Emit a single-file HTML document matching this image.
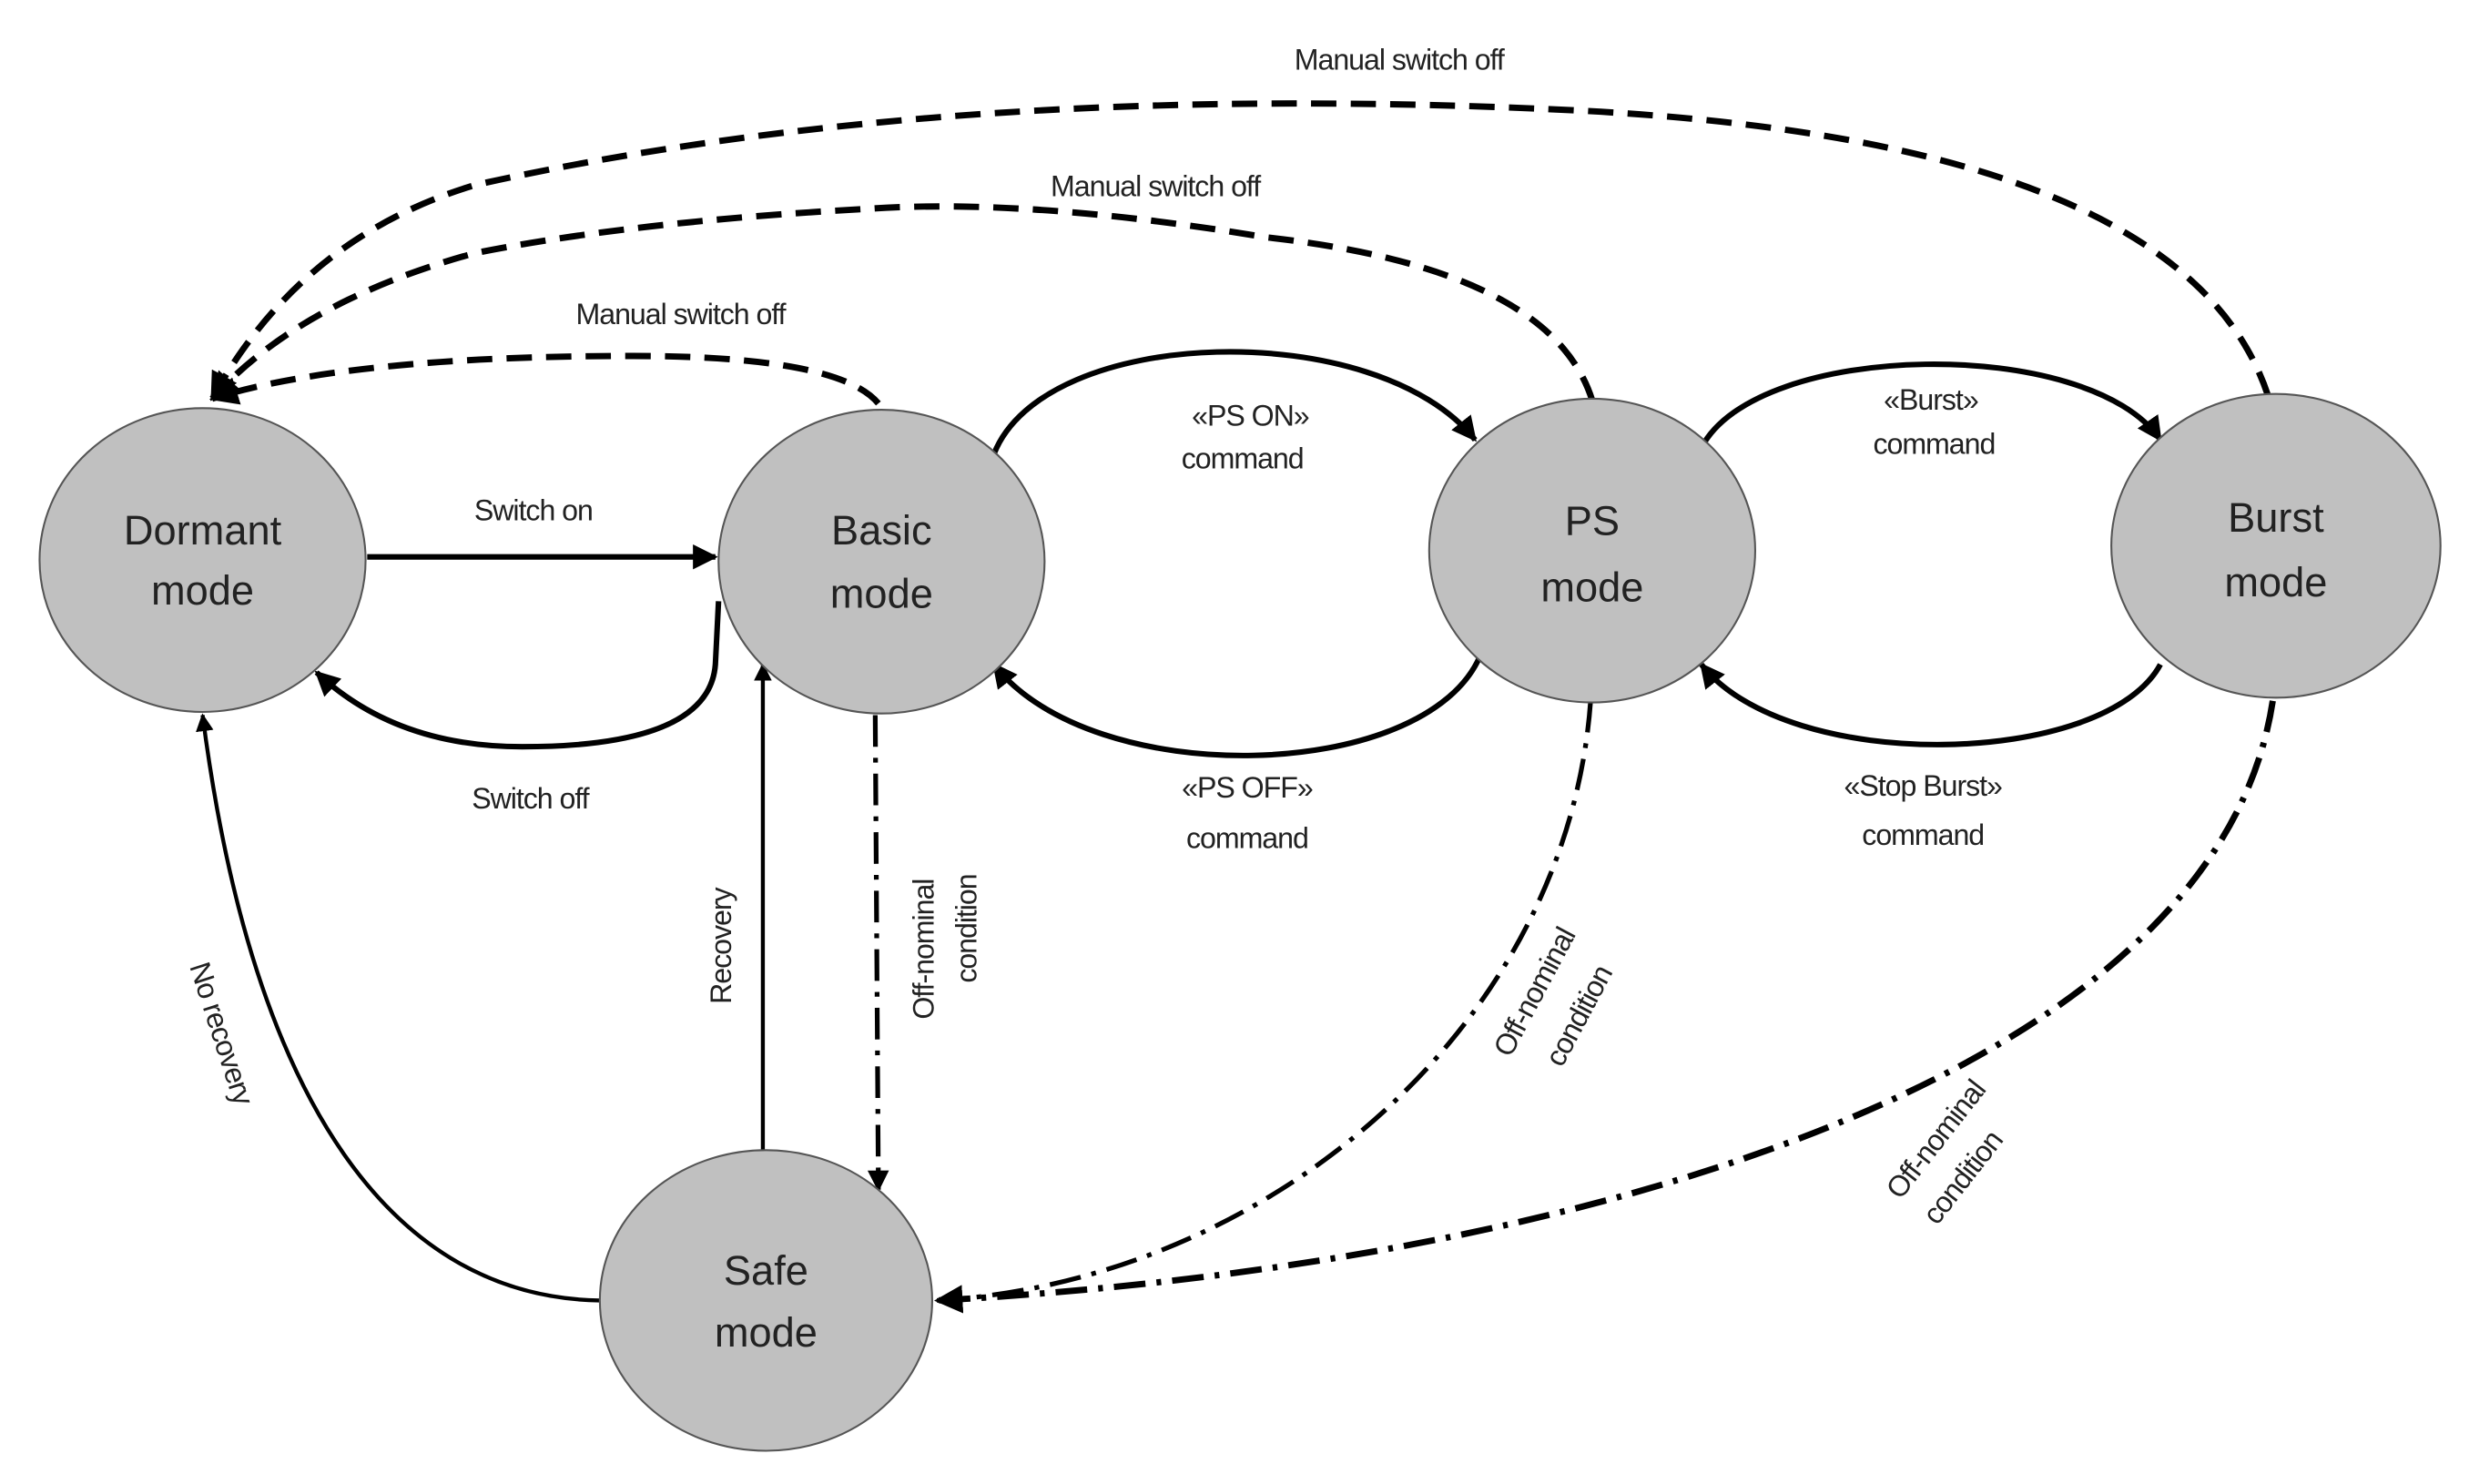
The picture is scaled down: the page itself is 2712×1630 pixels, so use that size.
<!DOCTYPE html>
<html><head><meta charset="utf-8"><style>
html,body{margin:0;padding:0;background:#fff;}
svg{display:block;}
text{font-family:"Liberation Sans",sans-serif;fill:#222;}
.n{font-size:26px;text-anchor:middle;}
.l{font-size:18.5px;text-anchor:middle;letter-spacing:-0.6px;}
</style></head><body>
<svg width="2712" height="1630" viewBox="0 0 1560 938" preserveAspectRatio="none" xmlns="http://www.w3.org/2000/svg">
<defs>
<marker id="b" viewBox="0 0 10 10" refX="9" refY="5" markerWidth="4.5" markerHeight="4.5" orient="auto"><path d="M0,0 L10,5 L0,10 z" fill="#000"/></marker>
</defs>
<g fill="none" stroke="#000">
<path d="M1433,250 Q1380,90 1000,70 Q600,50 300,117 Q190,150 134,252" stroke-width="4" stroke-dasharray="16 9" marker-end="url(#b)"/>
<path d="M1006,253 Q980,170 800,150 Q650,125 548,132 Q400,140 300,160 Q190,190 134,252" stroke-width="4" stroke-dasharray="16 9" marker-end="url(#b)"/>
<path d="M555,255 Q530,225 400,225 Q220,225 134,252" stroke-width="4" stroke-dasharray="16 9" marker-end="url(#b)"/>
<path d="M232,352 L452,352" stroke-width="3.5" marker-end="url(#b)"/>
<path d="M454,380 L452,420 Q448,472 330,472 Q250,472 200,425" stroke-width="3.5" marker-end="url(#b)"/>
<path d="M628,287 C660,205 870,200 932,278" stroke-width="3.5" marker-end="url(#b)"/>
<path d="M935,415 C900,495 690,500 628,420" stroke-width="3.5" marker-end="url(#b)"/>
<path d="M1075,283 C1110,215 1320,212 1365,278" stroke-width="3.5" marker-end="url(#b)"/>
<path d="M1365,420 C1330,485 1130,490 1075,420" stroke-width="3.5" marker-end="url(#b)"/>
<path d="M482,727 L482,420" stroke-width="2.5" marker-end="url(#b)"/>
<path d="M379,822 C250,820 160,700 128,452" stroke-width="2.5" marker-end="url(#b)"/>
<path d="M553,452 L555,752" stroke-width="3" stroke-dasharray="20 7 3 7" marker-end="url(#b)"/>
<path d="M1005,443 C990,650 800,810 592,822" stroke-width="3" stroke-dasharray="20 7 3 7"/>
<path d="M1436,443 C1400,680 1000,800 592,822" stroke-width="4" stroke-dasharray="20 7 3 7" marker-end="url(#b)"/>
</g>
<g fill="#c0c0c0" stroke="#555" stroke-width="1.2">
<ellipse cx="128" cy="354" rx="103" ry="96"/>
<ellipse cx="557" cy="355" rx="103" ry="96"/>
<ellipse cx="1006" cy="348" rx="103" ry="96"/>
<ellipse cx="1438" cy="345" rx="104" ry="96"/>
<ellipse cx="484" cy="822" rx="105" ry="95"/>
</g>
<text class="n" x="128" y="344">Dormant</text><text class="n" x="128" y="382">mode</text>
<text class="n" x="557" y="344">Basic</text><text class="n" x="557" y="384">mode</text>
<text class="n" x="1006" y="338">PS</text><text class="n" x="1006" y="380">mode</text>
<text class="n" x="1438" y="336">Burst</text><text class="n" x="1438" y="377">mode</text>
<text class="n" x="484" y="812">Safe</text><text class="n" x="484" y="851">mode</text>
<text class="l" x="884" y="44">Manual switch off</text>
<text class="l" x="730" y="124">Manual switch off</text>
<text class="l" x="430" y="205">Manual switch off</text>
<text class="l" x="337" y="329">Switch on</text>
<text class="l" x="335" y="511">Switch off</text>
<text class="l" x="790" y="269">«PS ON»</text><text class="l" x="785" y="296">command</text>
<text class="l" x="1220" y="259">«Burst»</text><text class="l" x="1222" y="287">command</text>
<text class="l" x="788" y="504">«PS OFF»</text><text class="l" x="788" y="536">command</text>
<text class="l" x="1215" y="503">«Stop Burst»</text><text class="l" x="1215" y="534">command</text>
<text class="l" transform="translate(462,598) rotate(-90)">Recovery</text>
<text class="l" transform="translate(590,600) rotate(-90)">Off-nominal</text>
<text class="l" transform="translate(617,587) rotate(-90)">condition</text>
<text class="l" transform="translate(134,655) rotate(72)">No recovery</text>
<text class="l" transform="translate(975,630) rotate(-62)">Off-nominal</text>
<text class="l" transform="translate(1003,645) rotate(-62)">condition</text>
<text class="l" transform="translate(1228,724) rotate(-52)">Off-nominal</text>
<text class="l" transform="translate(1245,748) rotate(-52)">condition</text>
</svg>
</body></html>
